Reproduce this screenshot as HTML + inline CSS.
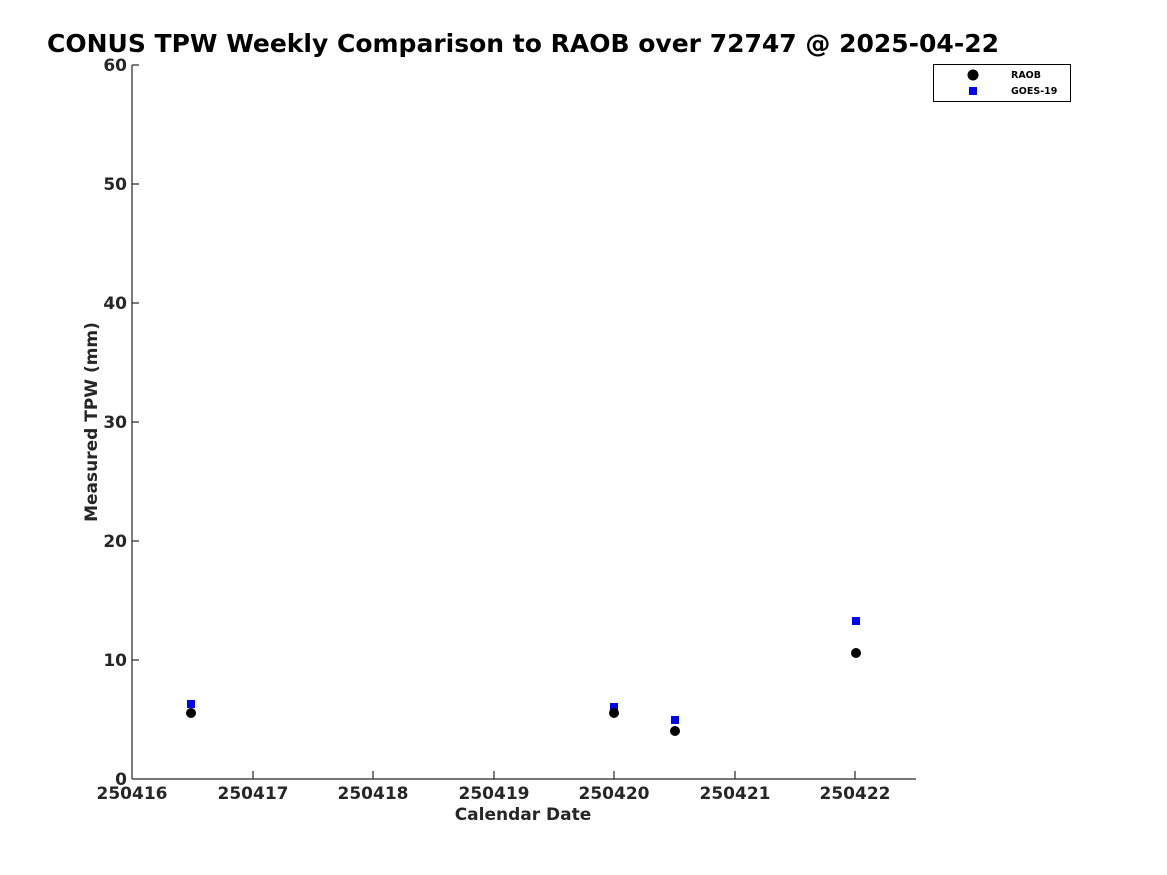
<!DOCTYPE html>
<html><head><meta charset="utf-8"><style>body{margin:0;background:#fff}svg{display:block}</style></head><body>
<svg width="1167" height="875" xmlns="http://www.w3.org/2000/svg" font-family="'DejaVu Sans','Liberation Sans',sans-serif" font-weight="bold">
<rect width="1167" height="875" fill="#fff"/>
<text x="47" y="52" font-size="25" fill="#000" textLength="952" lengthAdjust="spacingAndGlyphs">CONUS TPW Weekly Comparison to RAOB over 72747 @ 2025-04-22</text>
<g stroke="#262626" stroke-width="1.2" fill="none">
<line x1="132" y1="65" x2="132" y2="779"/>
<line x1="132" y1="779" x2="916" y2="779"/>
<line x1="132" y1="660" x2="139" y2="660"/><line x1="132" y1="541" x2="139" y2="541"/><line x1="132" y1="422" x2="139" y2="422"/><line x1="132" y1="303" x2="139" y2="303"/><line x1="132" y1="184" x2="139" y2="184"/><line x1="132" y1="65" x2="139" y2="65"/>
<line x1="253" y1="779" x2="253" y2="771"/><line x1="373" y1="779" x2="373" y2="771"/><line x1="494" y1="779" x2="494" y2="771"/><line x1="614" y1="779" x2="614" y2="771"/><line x1="735" y1="779" x2="735" y2="771"/><line x1="855" y1="779" x2="855" y2="771"/>
</g>
<g font-size="17" fill="#262626" text-anchor="end">
<text x="127" y="785">0</text><text x="127" y="666">10</text><text x="127" y="547">20</text><text x="127" y="428">30</text><text x="127" y="309">40</text><text x="127" y="190">50</text><text x="127" y="71">60</text>
</g>
<g font-size="17" fill="#262626" text-anchor="middle">
<text x="132" y="799">250416</text><text x="253" y="799">250417</text><text x="373" y="799">250418</text><text x="494" y="799">250419</text><text x="614" y="799">250420</text><text x="735" y="799">250421</text><text x="855" y="799">250422</text>
<text x="523" y="820">Calendar Date</text>
<text transform="translate(97,422) rotate(-90)">Measured TPW (mm)</text>
</g>
<g fill="#0000ff">
<rect x="187" y="700" width="8" height="8"/><rect x="610" y="703" width="8" height="8"/><rect x="671" y="716" width="8" height="8"/><rect x="852" y="617" width="8" height="8"/>
</g>
<g fill="#000">
<circle cx="191" cy="713" r="5"/><circle cx="614" cy="713" r="5"/><circle cx="675" cy="731" r="5"/><circle cx="856" cy="653" r="5"/>
</g>
<rect x="933.5" y="64.5" width="137" height="37" fill="#fff" stroke="#000"/>
<circle cx="973" cy="75" r="5.5" fill="#000"/>
<rect x="969" y="87" width="8" height="8" fill="#0000ff"/>
<g font-size="9.5" fill="#000"><text x="1011" y="78">RAOB</text><text x="1011" y="94">GOES-19</text></g>
</svg>
</body></html>
